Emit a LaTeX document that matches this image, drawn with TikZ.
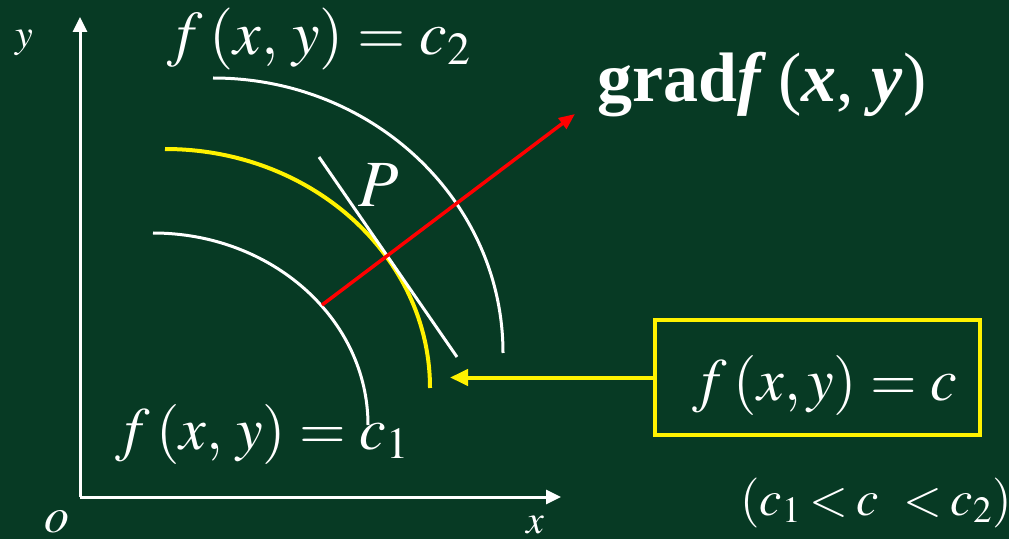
\documentclass[tikz,border=0pt]{standalone}
\usepackage{mathptmx}
\usepackage[no-math]{fontspec}
\setmainfont{Liberation Serif}
\usepackage{xcolor}
\usepackage{tikz}
\usetikzlibrary{arrows.meta}
\definecolor{board}{RGB}{7,58,36}

\begin{document}
\begin{tikzpicture}[x=1pt, y=1pt,
    curve/.style={white, line width=3pt},
    lbl/.style={text=white, inner sep=0pt, anchor=base, font=\fontsize{#1}{#1}\selectfont},
    arr/.style={-{Triangle[length=15pt, width=14pt]}, line width=#1}
]
\fill[board] (0,0) rectangle (1009,539);
\useasboundingbox (0,0) rectangle (1009,539);

% axes
\coordinate (orig) at (80,42);
\coordinate (xend) at (561,42);
\coordinate (yend) at (80,522);
\draw[arr=3pt, white] (orig) -- (xend);
\draw[arr=3pt, white] (orig) -- (yend);
\node[lbl=40] (ylab) at (24,491) {$y$};
\node[lbl=50] (olab) at (57,7) {$o$};
\node[lbl=40] (xlab) at (535,6) {$x$};

% level curves
\draw[curve] (213,461) arc[start angle=90, end angle=0, x radius=290, y radius=275];
\draw[curve, yellow, line width=4pt] (165,390) arc[start angle=90, end angle=0, x radius=265, y radius=239];
\draw[curve] (153,306) arc[start angle=90, end angle=0, x radius=215, y radius=192];

% tangent and gradient
\coordinate (tanA) at (319,382);
\coordinate (tanB) at (457,182);
\draw[curve] (tanA) -- (tanB);
\coordinate (gradA) at (322,234);
\coordinate (gradB) at (575,425);
\draw[arr=3.5pt, red, -{Triangle[length=16pt, width=13pt]}] (gradA) -- (gradB);

\node[lbl=62] (ctwo) at (319,484) {$f\,(x,\,y) = c_2$};
\node[lbl=60] (cone) at (262,90) {$f\,(x,\,y) = c_1$};
\node[lbl=66] (P) at (379,332) {$P$};
\node[lbl=70] (grad) at (762,437) {\textbf{grad}\textbf{\textit{f}}\,(\textbf{\textit{x}}, \textbf{\textit{y}})};

% the level c
\node[draw=yellow, line width=4pt, minimum width=325pt, minimum height=115pt, lbl=60, anchor=center] (cbox) at (817.5,161.5) {};
\node[lbl=60] (clab) at (825,139) {$f\,(x, y) = c$};
\coordinate (ctip) at (450,161.5);
\draw[arr=4pt, yellow, -{Triangle[length=18pt, width=16pt]}] (cbox) -- (ctip);
\node[lbl=50] (order) at (876,24) {\thickmuskip=3mu $(c_1 < c\;\; < c_2)$};
\end{tikzpicture}
\end{document}
